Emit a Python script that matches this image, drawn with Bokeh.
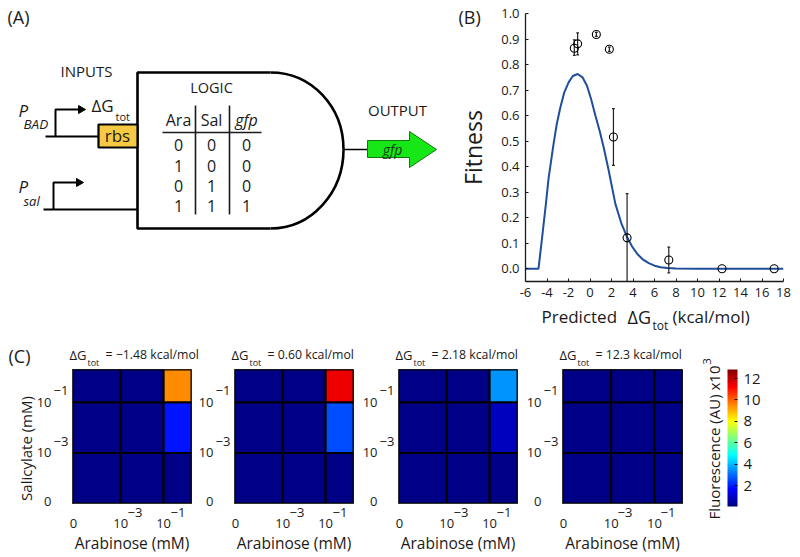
import numpy as np
from bokeh.plotting import figure
from bokeh.layouts import row, column
from bokeh.models import Range1d, Label, FixedTicker, ColorBar, LinearColorMapper, ColumnDataSource
from bokeh.embed import file_html
from bokeh.resources import INLINE

FONT = "Open Sans"
INK = "#1a1a1a"

# ---- data (B) ----
fit_x = [-6, -4.79, -4.45, -4.1, -3.86, -3.39, -3.1, -2.76, -2.4, -1.99, -1.6, -1.15, -0.7, -0.28, 0.1, 0.50, 0.9, 1.27, 1.74, 1.96, 2.36, 2.9, 3.45, 3.9, 4.38, 4.9, 5.47, 6.0, 6.56, 7.2, 8, 10, 18]
fit_y = [0, 0, 0.124, 0.255, 0.352, 0.489, 0.565, 0.632, 0.69, 0.730, 0.755, 0.763, 0.75, 0.717, 0.665, 0.600, 0.54, 0.476, 0.385, 0.338, 0.254, 0.18, 0.124, 0.088, 0.059, 0.037, 0.022, 0.012, 0.006, 0.003, 0.001, 0, 0]
pts_x = [-1.46, -1.15, 0.59, 1.80, 2.18, 3.45, 7.33, 12.28, 17.13]
pts_y = [0.864, 0.881, 0.918, 0.860, 0.516, 0.121, 0.034, 0.0, 0.0]
err_lo = [0.836, 0.838, 0.910, 0.852, 0.405, -0.05, -0.016, 0.0, 0.0]
err_hi = [0.897, 0.924, 0.926, 0.868, 0.627, 0.294, 0.085, 0.0, 0.0]

# ---- data (C) ----
ara_edges = [-5.25, -3, -1, 0.3]
sal_edges = [-5, -3, -1, 0.3]
panel_titles = ["= \u22121.48 kcal/mol", "= 0.60 kcal/mol", "= 2.18 kcal/mol", "= 12.3 kcal/mol"]
# rows: salicylate low -> high; columns: arabinose low -> high
fluor = [
    [[0.2, 0.2, 0.2], [0.2, 0.2, 1.92], [0.2, 0.2, 9.49]],
    [[0.2, 0.2, 0.2], [0.2, 0.2, 2.66], [0.2, 0.2, 11.4]],
    [[0.2, 0.2, 0.2], [0.2, 0.2, 0.87], [0.2, 0.2, 3.55]],
    [[0.2, 0.2, 0.2], [0.2, 0.2, 0.2], [0.2, 0.2, 0.2]],
]
cbar_low, cbar_high = 0.07, 12.84
cbar_ticks = [2, 4, 6, 8, 10, 12]

# ---- data (A) ----
table_header = ["Ara", "Sal", "gfp"]
table_rows = [[0, 0, 0], [1, 0, 0], [0, 1, 0], [1, 1, 1]]


def jet(n=256):
    out = []
    for v in np.linspace(0, 1, n):
        r = np.clip(1.5 - abs(4 * v - 3), 0, 1)
        g = np.clip(1.5 - abs(4 * v - 2), 0, 1)
        b = np.clip(1.5 - abs(4 * v - 1), 0, 1)
        out.append("#%02x%02x%02x" % (int(r * 255), int(g * 255), int(b * 255)))
    return out


mapper = LinearColorMapper(palette=jet(), low=cbar_low, high=cbar_high)


def blank(width, height, xr, yr, **kw):
    p = figure(width=width, height=height, x_range=Range1d(*xr), y_range=Range1d(*yr),
               x_axis_location=None, y_axis_location=None, toolbar_location=None,
               output_backend="svg", outline_line_color=None,
               min_border_left=0, min_border_right=0, min_border_top=0, min_border_bottom=0, **kw)
    p.grid.visible = False
    return p


# Transparent page-sized layer that carries every free text, in page pixels
TXT = blank(800, 557, (0, 800), (557, 0), background_fill_color=None, border_fill_color=None,
            styles={"position": "absolute", "left": "0px", "top": "0px"})


def put(x, y, text, size, align="left", base="middle", style="normal", angle=0.0, color=INK):
    TXT.add_layout(Label(x=x, y=y, x_units="canvas", y_units="canvas",
                         text=text, text_font=FONT,
                         text_font_size=f"{size}px", text_align=align, text_baseline=base,
                         text_font_style=style, angle=angle, angle_units="rad", text_color=color))


# ---------- Panel A ----------
A = blank(450, 340, (0, 450), (340, 0))
put(7, 16, "(A)", 18)
put(60, 70, "INPUTS", 15)
put(211, 87, "LOGIC", 14.5, align="center")
put(397, 109, "OUTPUT", 15, align="center")

A.line([270, 137, 137, 270], [72, 72, 228, 228], line_color="black", line_width=2.6)
A.bezier(x0=[270, 343], y0=[72, 149], x1=[343, 270], y1=[149, 228],
         cx0=[311, 343], cy0=[72, 192], cx1=[343, 311], cy1=[106, 228],
         line_color="black", line_width=2.6)
A.line([343, 367], [149, 149], line_color="black", line_width=1.6)
A.patch([367, 409, 409, 436, 409, 409, 367], [140, 140, 131, 149, 167, 157, 157],
        fill_color="#17e617", line_color="#0d7a0d", line_width=1)
put(392, 149, "gfp", 14, align="center", style="italic", color="#0b3d0b")

# promoters and rbs
A.line([45, 98], [136, 136], line_color="black", line_width=2)
A.line([55, 55, 80], [136, 109, 109], line_color="black", line_width=2)
A.patch([78, 85, 78], [105, 109, 113], fill_color="black", line_color="black")
A.line([43, 137], [209, 209], line_color="black", line_width=2)
A.line([53, 53, 78], [209, 182, 182], line_color="black", line_width=2)
A.patch([76, 83, 76], [178, 182, 186], fill_color="black", line_color="black")
A.quad(left=[98], right=[137], top=[124], bottom=[147], fill_color="#f6c945", line_color="black", line_width=2.2)
put(117, 135, "rbs", 17, align="center")
put(91, 105, "\u0394G", 17)
put(115, 116, "tot", 11)
put(18, 110, "P", 17, style="italic")
put(23, 123, "BAD", 13.5, style="italic")
put(18, 186, "P", 17, style="italic")
put(23, 200, "sal", 13, style="italic")

# truth table
A.line([162, 261], [132, 132], line_color=INK, line_width=1.6)
A.line([195, 195], [105, 214], line_color=INK, line_width=1.6)
A.line([229, 229], [105, 214], line_color=INK, line_width=1.6)
col_x = [178, 211, 246]
row_y = [144, 165, 185, 205]
for cx, h in zip(col_x, table_header):
    put(cx, 119, h, 16, align="center", style="italic" if h == "gfp" else "normal")
for ry, r in zip(row_y, table_rows):
    for cx, v in zip(col_x, r):
        put(cx, ry, str(v), 16, align="center")

# ---------- Panel B ----------
B = figure(width=350, height=340, x_range=Range1d(-6, 18), y_range=Range1d(-0.05, 1.0),
           toolbar_location=None, output_backend="svg", outline_line_color=None,
           min_border_left=75, min_border_right=17, min_border_top=13, min_border_bottom=59)
B.grid.visible = False
B.xaxis.ticker = FixedTicker(ticks=list(range(-6, 19, 2)))
B.xaxis.major_label_overrides = {t: str(t) for t in range(-6, 19, 2)}
B.yaxis.ticker = FixedTicker(ticks=[i / 10 for i in range(0, 11)])
B.yaxis.major_label_overrides = {i / 10: f"{i / 10:.1f}" for i in range(0, 11)}
for ax in (B.xaxis, B.yaxis):
    ax.major_tick_in = 3
    ax.major_tick_out = 0
    ax.minor_tick_line_color = None
    ax.axis_line_color = INK
    ax.axis_line_width = 1.3
    ax.major_tick_line_color = INK
    ax.major_label_text_font = FONT
    ax.major_label_text_font_size = "13px"
    ax.major_label_text_color = INK
    ax.major_label_standoff = 6
B.yaxis.axis_label = "Fitness"
B.yaxis.axis_label_text_font = FONT
B.yaxis.axis_label_text_font_size = "23px"
B.yaxis.axis_label_text_font_style = "normal"
B.yaxis.axis_label_text_color = INK
B.yaxis.axis_label_standoff = 9
B.line(fit_x, fit_y, line_color="#1f4e9c", line_width=2)
B.segment(pts_x[:7], err_lo[:7], pts_x[:7], err_hi[:7], line_color="#222222", line_width=1.2)
cap = 0.13
B.segment([x - cap for x in pts_x[:7]], err_hi[:7], [x + cap for x in pts_x[:7]], err_hi[:7], line_color="#222222", line_width=1.2)
B.segment([x - cap for x in pts_x[:7]], err_lo[:7], [x + cap for x in pts_x[:7]], err_lo[:7], line_color="#222222", line_width=1.2)
B.scatter(pts_x, pts_y, size=8, marker="circle", fill_color=None, line_color="black", line_width=1.1)
put(458, 16, "(B)", 18)
put(541, 316, "Predicted", 17)
put(627, 316, "\u0394G", 18)
put(652, 325, "tot", 12)
put(672, 316, "(kcal/mol)", 17)

# ---------- Panel C ----------
frames = [(72, 191), (234, 353), (398, 517), (562, 682)]
fig_edges = [(0, 194), (194, 358), (358, 522), (522, 690)]
YT, YB = 369, 503
heat = []
for i in range(4):
    (xl, xr), (fl, fr) = frames[i], fig_edges[i]
    p = figure(width=fr - fl, height=217, x_range=Range1d(ara_edges[0], ara_edges[-1]),
               y_range=Range1d(sal_edges[0], sal_edges[-1]), toolbar_location=None,
               output_backend="svg", outline_line_color="#333333",
               min_border_left=xl - fl, min_border_right=fr - xr,
               min_border_top=YT - 340, min_border_bottom=557 - YB)
    p.grid.visible = False
    left, right, bottom, top, val = [], [], [], [], []
    for s in range(3):
        for a in range(3):
            left.append(ara_edges[a]); right.append(ara_edges[a + 1])
            bottom.append(sal_edges[s]); top.append(sal_edges[s + 1])
            val.append(fluor[i][s][a])
    src = ColumnDataSource(dict(left=left, right=right, bottom=bottom, top=top, v=val))
    p.quad(left="left", right="right", bottom="bottom", top="top", source=src,
           fill_color={"field": "v", "transform": mapper}, line_color="black", line_width=2)
    p.xaxis.ticker = FixedTicker(ticks=[-5.2, -3, -1])
    p.xaxis.major_label_overrides = {-5.2: "0", -3: "10", -1: "10"}
    p.yaxis.ticker = FixedTicker(ticks=[-4.92, -3, -1])
    p.yaxis.major_label_overrides = {-4.92: "0", -3: "10", -1: "10"}
    for ax in (p.xaxis, p.yaxis):
        ax.major_tick_line_color = None
        ax.minor_tick_line_color = None
        ax.axis_line_color = "#333333"
        ax.major_label_text_font = FONT
        ax.major_label_text_font_size = "13px"
        ax.major_label_text_color = INK
    p.xaxis.major_label_standoff = 9
    p.yaxis.major_label_standoff = 15
    p.xaxis.axis_label = "Arabinose (mM)"
    p.xaxis.axis_label_text_font = FONT
    p.xaxis.axis_label_text_font_size = "15.5px"
    p.xaxis.axis_label_text_font_style = "normal"
    p.xaxis.axis_label_text_color = INK
    p.xaxis.axis_label_standoff = 1
    # superscripts of the tick labels
    put(xl + 55, 512, "\u22123", 13)
    put(xl + 98, 512, "\u22121", 13)
    put(xl - 19, 390, "\u22121", 13)
    put(xl - 19, 441, "\u22123", 13)
    # title
    put(xl - 3, 354, "\u0394G", 13)
    put(xl + 15, 362, "tot", 9)
    put(xl + 33, 354, panel_titles[i], 12.3)
    if i == 0:
        put(8, 355, "(C)", 18, align="left")
        put(25, 448, "Salicylate (mM)", 15, align="center", angle=np.pi / 2)
    heat.append(p)

# ---------- Colour bar ----------
CB = blank(110, 217, (690, 800), (557, 340))
cb = ColorBar(color_mapper=mapper, ticker=FixedTicker(ticks=cbar_ticks), location=(37, 51),
              width=10, height=137, padding=0, margin=0, bar_line_color=None,
              major_tick_in=3, major_tick_out=0, major_tick_line_color="black", minor_tick_line_color=None,
              major_label_text_font=FONT, major_label_text_font_size="15px",
              major_label_text_color=INK, label_standoff=6, background_fill_color=None)
CB.add_layout(cb)
put(713, 442, "Fluorescence (AU) x10", 15, align="center", angle=np.pi / 2)
put(706, 361, "3", 11.5, align="center", angle=np.pi / 2)

page = column(row(column(A), column(B)), row(row(*heat), column(CB)), TXT)
open("out.html", "w").write(file_html(page, INLINE))
